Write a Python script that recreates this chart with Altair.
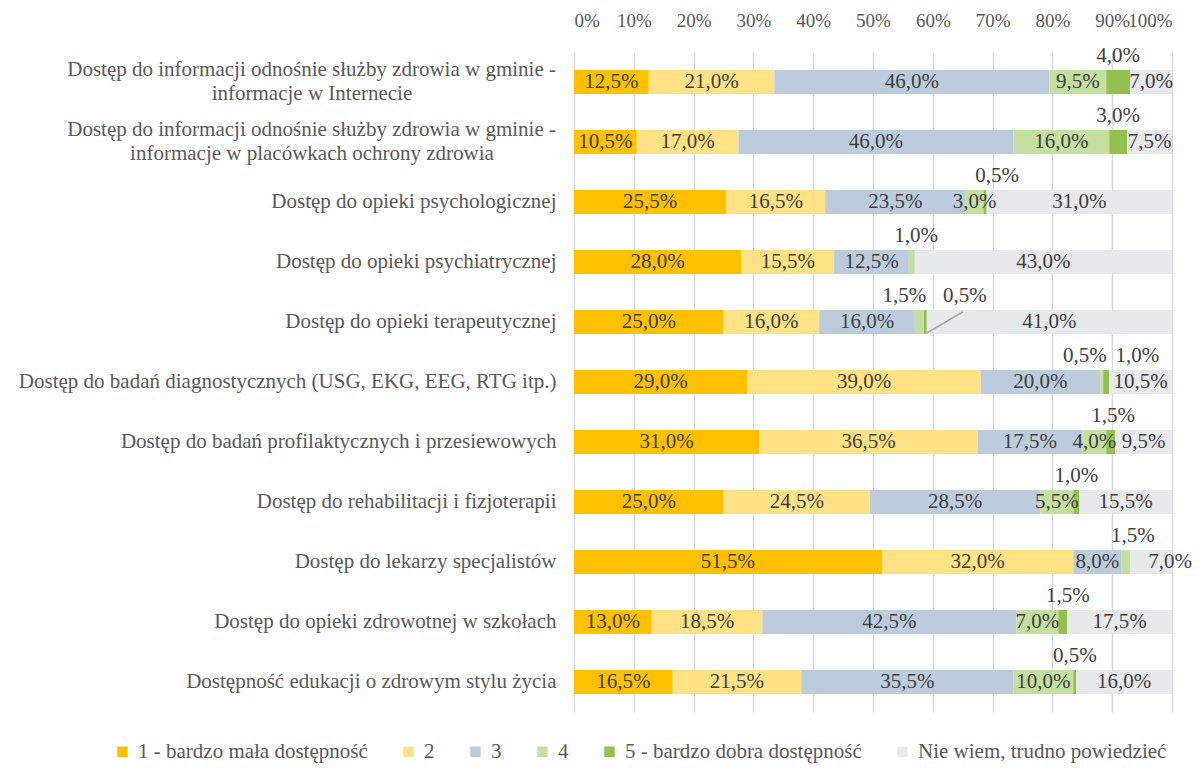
import altair as alt
import pandas as pd

categories = [
    "Dostęp do informacji odnośnie służby zdrowia w gminie -\ninformacje w Internecie",
    "Dostęp do informacji odnośnie służby zdrowia w gminie -\ninformacje w placówkach ochrony zdrowia",
    "Dostęp do opieki psychologicznej",
    "Dostęp do opieki psychiatrycznej",
    "Dostęp do opieki terapeutycznej",
    "Dostęp do badań diagnostycznych (USG, EKG, EEG, RTG itp.)",
    "Dostęp do badań profilaktycznych i przesiewowych",
    "Dostęp do rehabilitacji i fizjoterapii",
    "Dostęp do lekarzy specjalistów",
    "Dostęp do opieki zdrowotnej w szkołach",
    "Dostępność edukacji o zdrowym stylu życia",
]
series_names = [
    "1 - bardzo mała dostępność",
    "2",
    "3",
    "4",
    "5 - bardzo dobra dostępność",
    "Nie wiem, trudno powiedzieć",
]
s1 = [12.5, 10.5, 25.5, 28.0, 25.0, 29.0, 31.0, 25.0, 51.5, 13.0, 16.5]
s2 = [21.0, 17.0, 16.5, 15.5, 16.0, 39.0, 36.5, 24.5, 32.0, 18.5, 21.5]
s3 = [46.0, 46.0, 23.5, 12.5, 16.0, 20.0, 17.5, 28.5, 8.0, 42.5, 35.5]
s4 = [9.5, 16.0, 3.0, 1.0, 1.5, 0.5, 4.0, 5.5, 1.5, 7.0, 10.0]
s5 = [4.0, 3.0, 0.5, 0.0, 0.5, 1.0, 1.5, 1.0, 0.0, 1.5, 0.5]
s6 = [7.0, 7.5, 31.0, 43.0, 41.0, 10.5, 9.5, 15.5, 7.0, 17.5, 16.0]
all_series = [s1, s2, s3, s4, s5, s6]

# ---- styling ----
colors = ["#FFC000", "#FFE285", "#BCCCDD", "#C5DFA0", "#92C14F", "#E8E9EB"]
# horizontal nudges (in axis percent units) of some data labels: (row, series) -> dx
label_dx = {(2, 4): 2.0, (3, 3): 0.7, (4, 3): -2.5, (4, 4): 6.6, (5, 3): -2.8,
            (5, 4): 5.2, (6, 4): 0.4, (8, 3): 1.2, (8, 5): 3.2, (9, 4): 0.85}
FONT = "Liberation Serif"
YFONT = 21
YPAD = 18
LINE_H = 24
FIRST_LINE_W = 488  # approximate rendered width of the long first line

rows = []
for i, cat in enumerate(categories):
    start = 0.0
    for k, name in enumerate(series_names):
        v = all_series[k][i]
        above = (k == 4) or (v < 2.5)
        rows.append(dict(cat=cat, series=name, order=k, value=v, start=start,
                         end=start + v,
                         lx=start + v / 2 + label_dx.get((i, k), 0.0),
                         label=("%.1f" % v).replace(".", ",") + "%",
                         above=above))
        start += v
df = pd.DataFrame(rows)
df = df[df["value"] > 0]

wrapped = pd.DataFrame([{"cat": c, "line1": c.split("\n")[0], "line2": c.split("\n")[1]}
                        for c in categories if "\n" in c])

ysc = alt.Scale(domain=categories, paddingInner=0.6, paddingOuter=0.3)
xsc = alt.Scale(domain=[0, 100], nice=False)

base = alt.Chart(df)

bars = base.mark_bar(size=24).encode(
    x=alt.X("start:Q", scale=xsc, axis=alt.Axis(
        orient="top", values=list(range(0, 101, 10)), labelExpr="datum.value + '%'",
        title=None, domain=False, ticks=False, labelPadding=22, labelOverlap=False,
        grid=True, gridColor="#D9D9D9", gridWidth=1.5,
        labelFont=FONT, labelFontSize=19, labelColor="#595959")),
    x2="end:Q",
    y=alt.Y("cat:N", scale=ysc, sort=categories, axis=alt.Axis(
        title=None, domain=False, ticks=False, labelPadding=YPAD,
        labelExpr="indexof(datum.label, '\\n') >= 0 ? '' : datum.label",
        labelFont=FONT, labelFontSize=YFONT, labelColor="#595959", labelLimit=700)),
    color=alt.Color("series:N", scale=alt.Scale(domain=series_names, range=colors),
                    legend=alt.Legend(
                        title=None, orient="none", direction="horizontal",
                        legendX=-462, legendY=689, columns=6,
                        symbolType="square", symbolSize=110, symbolStrokeWidth=0,
                        labelFont=FONT, labelFontSize=21, labelColor="#595959",
                        columnPadding=30, labelOffset=5, labelLimit=400)),
    order=alt.Order("order:Q"),
)

# wrapped category labels: first line right-aligned, second line centred under it
line1 = alt.Chart(wrapped).mark_text(
    font=FONT, fontSize=YFONT, color="#595959", baseline="middle", align="right",
    dy=-LINE_H / 2).encode(
    x=alt.value(-YPAD),
    y=alt.Y("cat:N", scale=ysc, sort=categories),
    text="line1:N")
line2 = alt.Chart(wrapped).mark_text(
    font=FONT, fontSize=YFONT, color="#595959", baseline="middle", align="center",
    dy=LINE_H / 2).encode(
    x=alt.value(-YPAD - FIRST_LINE_W / 2),
    y=alt.Y("cat:N", scale=ysc, sort=categories),
    text="line2:N")

inside = base.transform_filter("!datum.above").mark_text(
    font=FONT, fontSize=21, color="#404040", baseline="middle").encode(
    x=alt.X("lx:Q", scale=xsc), y=alt.Y("cat:N", scale=ysc, sort=categories),
    text="label:N")

above = base.transform_filter("datum.above").mark_text(
    font=FONT, fontSize=21, color="#404040", baseline="middle", dy=-26).encode(
    x=alt.X("lx:Q", scale=xsc), y=alt.Y("cat:N", scale=ysc, sort=categories),
    text="label:N")

leader_df = pd.DataFrame({"cat": [categories[4]], "x1": [59.0], "x2": [65.0]})
leader = alt.Chart(leader_df).mark_rule(color="#A6A6A6", strokeWidth=1.5,
                                        yOffset=11, y2Offset=-10).encode(
    x=alt.X("x1:Q", scale=xsc), x2="x2:Q",
    y=alt.Y("cat:N", scale=ysc, sort=categories), y2="cat:N")

chart = alt.layer(bars, inside, above, leader, line1, line2).properties(
    width=598, height=660,
    autosize=alt.AutoSizeParams(type="none"),
    padding={"left": 566, "top": 44, "right": 23, "bottom": 52},
).configure_view(stroke=None).configure_legend(
    labelFont=FONT, labelFontSize=21, labelColor="#595959"
)

chart.save("out.html", embed_options={"renderer": "svg", "actions": False})
